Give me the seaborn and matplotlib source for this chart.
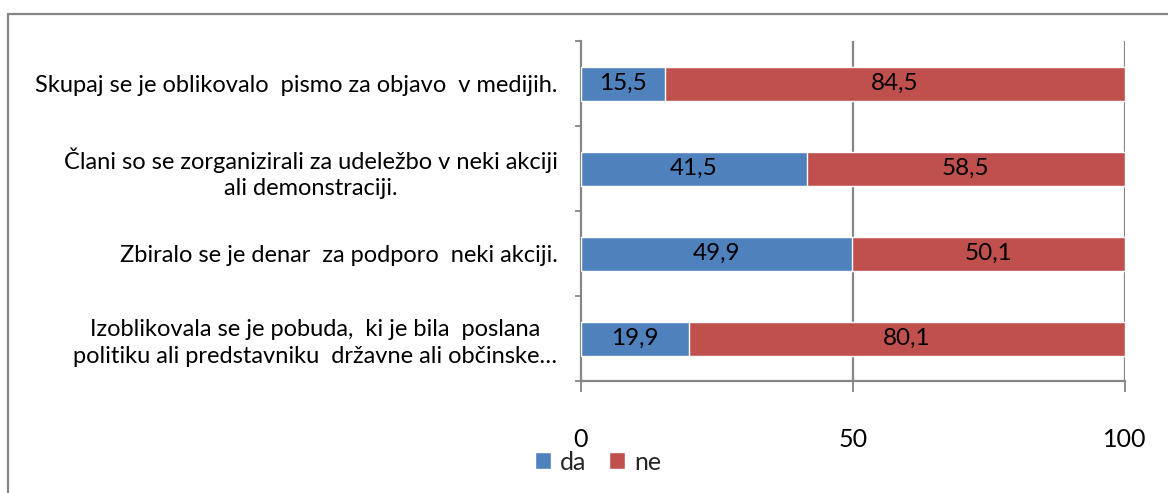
import matplotlib
matplotlib.use("Agg")
import matplotlib.pyplot as plt
from matplotlib.patches import Rectangle, Patch
import pandas as pd
import seaborn as sns

# Survey answers: share of "da" / "ne" for each activity
kategorije = [
    "Skupaj se je oblikovalo  pismo za objavo  v medijih.",
    "Člani so se zorganizirali za udeležbo v neki akciji\nali demonstraciji.",
    "Zbiralo se je denar  za podporo  neki akciji.",
    "Izoblikovala se je pobuda,  ki je bila  poslana\npolitiku ali predstavniku  državne ali občinske…",
]
da = [15.5, 41.5, 49.9, 19.9]
ne = [84.5, 58.5, 50.1, 80.1]
x_ticks = [0, 50, 100]

BLUE = "#4F81BD"
RED = "#C0504D"
GRID = "#868686"

sns.set_theme(style="white")
plt.rcParams["font.family"] = ["Lato", "DejaVu Sans"]

df = pd.DataFrame({"kategorija": kategorije, "da": da, "ne": ne})
df["skupaj"] = df["da"] + df["ne"]

fig = plt.figure(figsize=(11.68, 4.93), dpi=100)
ax = fig.add_axes([581 / 1168, 1 - 381 / 493, (1125 - 581) / 1168, (381 - 41) / 493])

# stacked bars: full length in red, "da" part drawn over it in blue
sns.barplot(data=df, y="kategorija", x="skupaj", color=RED, saturation=1,
            width=0.4, orient="h", ax=ax, zorder=2)
sns.barplot(data=df, y="kategorija", x="da", color=BLUE, saturation=1,
            width=0.4, orient="h", ax=ax, zorder=3)

for i, (d, n) in enumerate(zip(da, ne)):
    ax.text(d / 2, i, f"{d:.1f}".replace(".", ","), ha="center", va="center",
            fontsize=17.5, color="black", zorder=4)
    ax.text(d + n / 2, i, f"{n:.1f}".replace(".", ","), ha="center", va="center",
            fontsize=17.5, color="black", zorder=4)

ax.set_xlim(0, 100)
ax.set_ylim(3.5, -0.5)
ax.set_xlabel("")
ax.set_ylabel("")

# x axis
ax.set_xticks(x_ticks, [str(t) for t in x_ticks])
ax.tick_params(axis="x", direction="out", length=8, width=1.3, color=GRID,
               pad=26, labelsize=18, labelcolor="black", bottom=True)
for t in x_ticks[1:]:
    ax.axvline(t, color=GRID, lw=1.6, zorder=1)

# y axis: labels at centers, tick marks at category boundaries
ax.set_yticks(range(len(kategorije)), kategorije)
ax.set_yticks([-0.5, 0.5, 1.5, 2.5, 3.5], minor=True)
ax.tick_params(axis="y", which="major", length=0, pad=17, labelsize=17,
               labelcolor="black")
ax.tick_params(axis="y", which="minor", direction="out", length=4.5, width=1.3,
               color=GRID, left=True)
for lbl in ax.get_yticklabels():
    lbl.set_multialignment("center")
    lbl.set_linespacing(1.3)

for side in ("top", "right"):
    ax.spines[side].set_visible(False)
for side in ("left", "bottom"):
    ax.spines[side].set_color(GRID)
    ax.spines[side].set_linewidth(1.6)

# legend
handles = [Patch(facecolor=BLUE, label="da"), Patch(facecolor=RED, label="ne")]
fig.legend(handles=handles, loc="center", bbox_to_anchor=(598 / 1168, 1 - 462 / 493),
           ncol=2, frameon=False, fontsize=18, handlelength=0.65, handleheight=0.65,
           handletextpad=0.35, columnspacing=0.9)

# chart area border
fig.patches.append(Rectangle((8 / 1168, -0.2), 1.5, 0.2 + 1 - 14 / 493,
                             transform=fig.transFigure, fill=False,
                             edgecolor=GRID, lw=1.6))

fig.savefig("out.png", dpi=100, facecolor="white")
